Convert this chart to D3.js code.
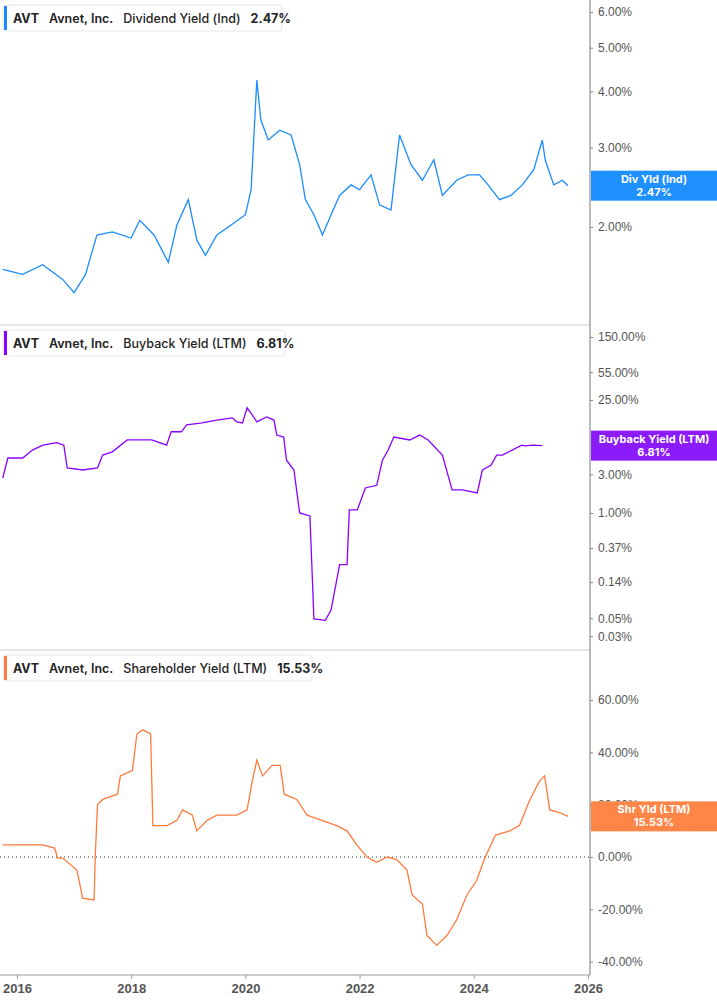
<!DOCTYPE html>
<html><head><meta charset="utf-8">
<script src="https://cdn.jsdelivr.net/npm/d3@7"></script>
<style>body{margin:0;background:#fff;font-family:Inter,"Noto Sans",sans-serif}</style>
</head><body><svg id="c" width="717" height="1005"></svg>
<script>
const divX=[2015.75,2016.1,2016.45,2016.8,2017.0,2017.2,2017.4,2017.67,2018.0,2018.15,2018.4,2018.65,2018.8,2019.0,2019.15,2019.3,2019.5,2019.75,2020.0,2020.1,2020.2,2020.27,2020.4,2020.6,2020.8,2020.95,2021.05,2021.2,2021.35,2021.5,2021.65,2021.85,2022.0,2022.2,2022.35,2022.55,2022.7,2022.9,2023.1,2023.3,2023.45,2023.7,2023.9,2024.1,2024.25,2024.45,2024.65,2024.85,2025.05,2025.2,2025.25,2025.4,2025.55,2025.65];
const divY=[1.61,1.57,1.65,1.53,1.43,1.57,1.92,1.95,1.89,2.07,1.92,1.67,2.02,2.30,1.87,1.73,1.92,2.02,2.13,2.42,4.24,3.46,3.12,3.28,3.20,2.75,2.30,2.13,1.92,2.13,2.35,2.48,2.42,2.61,2.24,2.18,3.20,2.75,2.54,2.82,2.35,2.54,2.61,2.61,2.48,2.30,2.35,2.48,2.68,3.12,2.82,2.48,2.54,2.47];
const bbX=[2015.75,2015.84,2016.1,2016.27,2016.45,2016.7,2016.82,2016.88,2017.15,2017.41,2017.5,2017.67,2017.93,2018.1,2018.36,2018.62,2018.7,2018.88,2018.97,2019.24,2019.5,2019.77,2019.85,2019.95,2020.03,2020.12,2020.2,2020.37,2020.5,2020.55,2020.67,2020.72,2020.85,2020.95,2021.13,2021.2,2021.4,2021.5,2021.65,2021.78,2021.82,2021.96,2022.1,2022.3,2022.4,2022.5,2022.6,2022.88,2023.05,2023.2,2023.45,2023.62,2023.8,2024.06,2024.15,2024.3,2024.4,2024.5,2024.84,2024.9,2025.03,2025.2,2025.3,2025.38];
const bbY=[2.71,4.79,4.79,6.0,6.9,7.4,6.9,3.6,3.4,3.6,5.2,5.7,8.0,8.0,8.0,6.9,10.1,10.1,12.3,13.0,14.1,15,13.4,13.0,20,16.3,13.4,15.4,14.1,9.2,8.7,4.5,3.4,1.0,0.92,0.049,0.047,0.063,0.23,0.23,1.09,1.09,2.04,2.2,4.5,6.0,8.7,8.0,9.2,8.0,5.2,1.93,1.93,1.77,3.4,3.9,5.2,5.2,6.9,6.75,6.9,6.81];
const shX=[2015.75,2016.1,2016.45,2016.66,2016.71,2016.8,2017.05,2017.15,2017.35,2017.37,2017.41,2017.5,2017.76,2017.81,2018.02,2018.1,2018.2,2018.34,2018.38,2018.63,2018.8,2018.9,2019.07,2019.15,2019.33,2019.5,2019.85,2020.03,2020.12,2020.2,2020.3,2020.47,2020.61,2020.68,2020.9,2021.08,2021.34,2021.6,2021.78,2021.95,2022.13,2022.3,2022.48,2022.65,2022.83,2022.92,2023.1,2023.18,2023.35,2023.53,2023.7,2023.88,2024.05,2024.2,2024.38,2024.63,2024.8,2024.98,2025.15,2025.24,2025.33,2025.5,2025.65];
const shY=[4.6,4.6,4.6,3.4,-0.4,-0.4,-5,-15.7,-16.4,0,20,22,24,31,33,47,48.6,47,12,12,14,18,16,10,14,16,16,18,29,37,31,35,35,24,22,16,14,12,10,4.6,0,-2,0,-1,-5,-14.5,-18,-30,-33.7,-30,-24,-14.5,-9,0,8.4,10,12,21.8,29,31,18,17,15.5];
const yearTicks=[2016,2018,2020,2022,2024,2026];
const divTicks=[2,3,4,5,6];
const bbTicks=[0.03,0.05,0.14,0.37,1,3,25,55,150];
const shTicks=[-40,-20,0,20,40,60];

const svg=d3.select("#c");
const AX=590;
const x=d3.scaleLinear().domain([2016,2026]).range([17,588]);
const gray="#666";
const panels=[
 {top:0,bot:325,xs:divX,ys:divY,y:d3.scaleLog().domain([2,6]).range([227,12]),ticks:divTicks,col:"#1a8cff",box:"#1e90ff",
  name:"Dividend Yield (Ind)",val:"2.47%",tag:"Div Yld (Ind)",last:2.47,w:279},
 {top:325,bot:650,xs:bbX,ys:bbY,y:d3.scaleLog().domain([1,150]).range([513,337]),ticks:bbTicks,col:"#8a00ff",box:"#8c1bfb",
  name:"Buyback Yield (LTM)",val:"6.81%",tag:"Buyback Yield (LTM)",last:6.81,w:282},
 {top:650,bot:975,xs:shX,ys:shY,y:d3.scaleLinear().domain([0,60]).range([857,700]),ticks:shTicks,col:"#ff7a3d",box:"#ff8646",
  name:"Shareholder Yield (LTM)",val:"15.53%",tag:"Shr Yld (LTM)",last:15.53,w:309}
];
const fmt=v=>(Math.abs(v)<1e-9?0:v).toFixed(2)+"%";
panels.forEach((p,i)=>{
  if(i>0) svg.append("line").attr("x1",0).attr("x2",AX).attr("y1",p.top).attr("y2",p.top).attr("stroke","#ccc");
  if(i===2) svg.append("line").attr("x1",0).attr("x2",AX).attr("y1",p.y(0)).attr("y2",p.y(0)).attr("stroke","#333").attr("stroke-dasharray","1,3");
  const ax=d3.axisRight(p.y).tickValues(p.ticks).tickFormat(fmt).tickSize(3);
  const g=svg.append("g").attr("transform",`translate(${AX},0)`).call(ax);
  g.select(".domain").remove();
  g.selectAll("line").attr("stroke","#888");
  g.selectAll("text").attr("fill","#555").attr("font-size",12).attr("x",8);
  const line=d3.line().x((d,j)=>x(p.xs[j])).y(d=>p.y(d));
  svg.append("path").datum(p.ys).attr("d",line).attr("fill","none").attr("stroke",p.col).attr("stroke-width",1.3);
  const ly=p.y(p.last);
  svg.append("rect").attr("x",AX+1).attr("y",ly-15).attr("width",717-AX).attr("height",30).attr("fill",p.box);
  svg.append("text").attr("x",AX+64).attr("y",ly-3).attr("text-anchor","middle").attr("fill","#fff").attr("font-size",11).attr("font-weight",700).text(p.tag);
  svg.append("text").attr("x",AX+64).attr("y",ly+10).attr("text-anchor","middle").attr("fill","#fff").attr("font-size",11).attr("font-weight",700).text(p.val);
  const lg=svg.append("g").attr("transform",`translate(3,${p.top+5})`);
  lg.append("rect").attr("width",p.w).attr("height",26).attr("rx",3).attr("fill","#fff").attr("stroke","#e6e6e6");
  lg.append("rect").attr("x",1).attr("y",1).attr("width",3).attr("height",24).attr("fill",p.col);
  const t=lg.append("text").attr("x",10).attr("y",17.5).attr("font-size",12.5).attr("fill","#222");
  t.append("tspan").attr("font-weight",700).text("AVT");
  t.append("tspan").attr("dx",10).attr("font-weight",600).text("Avnet, Inc.");
  t.append("tspan").attr("dx",10).attr("font-weight",500).text(p.name);
  t.append("tspan").attr("dx",10).attr("font-weight",700).text(p.val);
});
svg.append("line").attr("x1",AX).attr("x2",AX).attr("y1",0).attr("y2",975).attr("stroke","#777");
const xa=svg.append("g").attr("transform","translate(0,975)").call(d3.axisBottom(x).tickValues(yearTicks).tickFormat(d3.format("d")).tickSize(4));
xa.select(".domain").attr("d","M0,0H"+AX).attr("stroke","#999");
xa.selectAll("line").attr("stroke","#999");
xa.selectAll("text").attr("fill","#555").attr("font-size",13).attr("font-weight",700).attr("y",9);
</script></body></html>
